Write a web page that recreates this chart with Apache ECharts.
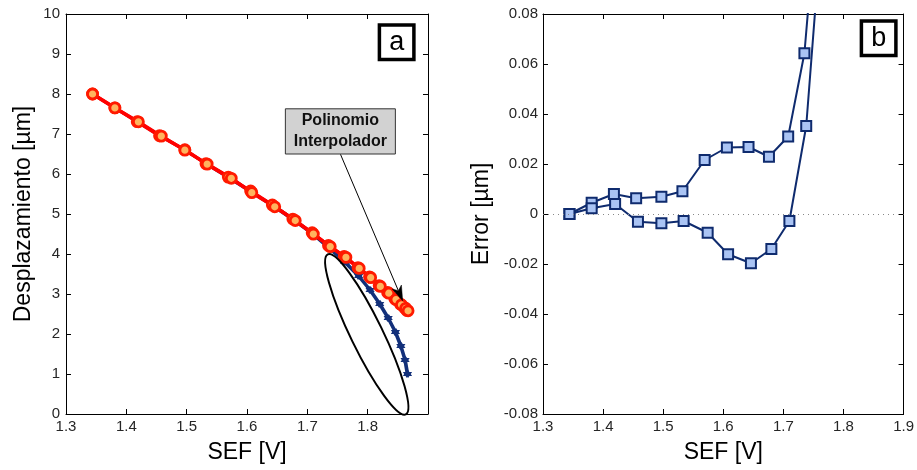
<!DOCTYPE html>
<html>
<head>
<meta charset="utf-8">
<script src="https://cdn.jsdelivr.net/npm/echarts@6/dist/echarts.min.js"></script>
<style>
  html, body { margin: 0; padding: 0; background: #fff; }
  #chart { width: 917px; height: 470px; }
</style>
</head>
<body>
<div id="chart"></div>
<script>
// Desplazamiento medido (µm) en cada escalón, ida y vuelta
const desplazamiento = [8.00, 7.65, 7.30, 6.95, 6.60, 6.25, 5.90, 5.55, 5.20, 4.85, 4.50, 4.15, 3.80, 3.45, 3.10, 2.75, 2.40, 2.05, 1.70, 1.35, 1.00];
// Tensión SEF (V) registrada en cada pasada
const sefSubida = [1.344, 1.381, 1.418, 1.455, 1.497, 1.532, 1.569, 1.606, 1.642, 1.676, 1.708, 1.735, 1.761, 1.784, 1.803, 1.819, 1.833, 1.845, 1.854, 1.861, 1.865];
const sefBajada = [1.344, 1.381, 1.420, 1.458, 1.497, 1.534, 1.574, 1.608, 1.646, 1.680, 1.710, 1.738, 1.764, 1.786, 1.805, 1.821, 1.835, 1.847, 1.856, 1.863, 1.867];
// Salida del polinomio interpolador (µm)
const polinomioSubida = [8.000, 7.655, 7.308, 6.956, 6.607, 6.259, 5.922, 5.577, 5.227, 4.873, 4.531, 4.214, 3.938, 3.66, 3.43, 3.21, 3.04, 2.88, 2.75, 2.66, 2.59];
const polinomioBajada = [8.000, 7.652, 7.304, 6.947, 6.596, 6.247, 5.893, 5.534, 5.180, 4.836, 4.497, 4.185, 3.916, 3.64, 3.41, 3.19, 3.02, 2.86, 2.73, 2.64, 2.58];
// Error del polinomio respecto a la medida (µm)
const errorSubida = [0.0000, 0.0045, 0.0080, 0.0063, 0.0069, 0.0091, 0.0216, 0.0266, 0.0268, 0.0229, 0.0310, 0.0643, 0.138, 0.21, 0.33, 0.46, 0.64, 0.83, 1.05, 1.31, 1.59];
const errorBajada = [0.0000, 0.0023, 0.0040, -0.0031, -0.0037, -0.0028, -0.0075, -0.0161, -0.0197, -0.0140, -0.0028, 0.0352, 0.116, 0.19, 0.31, 0.44, 0.62, 0.81, 1.03, 1.29, 1.58];
// Etiquetas de los ejes X
const etiquetasSefA = ['1.3', '1.4', '1.5', '1.6', '1.7', '1.8'];
const etiquetasSefB = ['1.3', '1.4', '1.5', '1.6', '1.7', '1.8', '1.9'];

const pares = (xs, ys) => xs.map((x, i) => [x, ys[i]]);

const FONT = 'Liberation Sans, Arial, sans-serif';
const gridA = { left: 66, top: 14, width: 362, height: 400 };
const gridB = { left: 543, top: 14, width: 363, height: 400 };

const tickStyle = { show: true, inside: true, length: 5, lineStyle: { color: '#000', width: 1 } };
const lineStyle = { show: true, onZero: false, lineStyle: { color: '#000', width: 1 } };
const labelStyle = { color: '#262626', fontSize: 15, fontFamily: FONT };
const nameStyle = { color: '#000', fontSize: 23, fontFamily: FONT };

function ejeX(grid, pos, etiquetas, conNombre) {
  return {
    type: 'value', gridIndex: grid, position: pos, min: 1.3, max: 1.9, interval: 0.1,
    axisLine: lineStyle, axisTick: tickStyle, splitLine: { show: false },
    axisLabel: pos === 'bottom' ? Object.assign({
      margin: 5,
      formatter: v => { const t = v.toFixed(1); return etiquetas.includes(t) ? t : ''; }
    }, labelStyle) : { show: false },
    name: conNombre ? 'SEF [V]' : '', nameLocation: 'middle', nameGap: 27, nameTextStyle: nameStyle
  };
}

const AZUL = '#13307a';
const AZUL_E = '#0f2b6e';

const option = {
  animation: false,
  backgroundColor: '#fff',
  grid: [gridA, gridB],
  xAxis: [
    ejeX(0, 'bottom', etiquetasSefA, true),
    ejeX(0, 'top', etiquetasSefA, false),
    ejeX(1, 'bottom', etiquetasSefB, true),
    ejeX(1, 'top', etiquetasSefB, false)
  ],
  yAxis: [
    {
      type: 'value', gridIndex: 0, position: 'left', min: 0, max: 10, interval: 1,
      axisLine: lineStyle, axisTick: tickStyle, splitLine: { show: false },
      axisLabel: Object.assign({ margin: 6 }, labelStyle),
      name: 'Desplazamiento [µm]', nameLocation: 'middle', nameGap: 31, nameTextStyle: nameStyle
    },
    {
      type: 'value', gridIndex: 0, position: 'right', min: 0, max: 10, interval: 1,
      axisLine: lineStyle, axisTick: tickStyle, splitLine: { show: false }, axisLabel: { show: false }
    },
    {
      type: 'value', gridIndex: 1, position: 'left', min: -0.08, max: 0.08, interval: 0.02,
      axisLine: lineStyle, axisTick: tickStyle, splitLine: { show: false },
      axisLabel: Object.assign({ margin: 5, formatter: v => Math.abs(v) < 1e-9 ? '0' : v.toFixed(2) }, labelStyle),
      name: 'Error [µm]', nameLocation: 'middle', nameGap: 50, nameTextStyle: nameStyle
    },
    {
      type: 'value', gridIndex: 1, position: 'right', min: -0.08, max: 0.08, interval: 0.02,
      axisLine: lineStyle, axisTick: tickStyle, splitLine: { show: false }, axisLabel: { show: false }
    }
  ],
  series: [
    // Medidas (azul) bajo el polinomio (rojo)
    ...[sefSubida, sefBajada].map(sef => ({
      type: 'line', xAxisIndex: 0, yAxisIndex: 0, data: pares(sef, desplazamiento),
      symbol: 'path://M0,-10 L2.9,-5 L8.7,-5 L5.8,0 L8.7,5 L2.9,5 L0,10 L-2.9,5 L-8.7,5 L-5.8,0 L-8.7,-5 L-2.9,-5 Z',
      symbolSize: 8, showSymbol: true,
      lineStyle: { color: AZUL, width: 2.5 }, itemStyle: { color: AZUL }, z: 2
    })),
    ...[[sefSubida, polinomioSubida], [sefBajada, polinomioBajada]].map(([sef, pol]) => ({
      type: 'line', xAxisIndex: 0, yAxisIndex: 0, data: pares(sef, pol),
      symbol: 'circle', symbolSize: 10, showSymbol: true,
      lineStyle: { color: '#ff0000', width: 3.5 },
      itemStyle: { color: '#ffb45e', borderColor: '#ff1a00', borderWidth: 2.8 }, z: 3
    })),
    ...[[sefSubida, errorSubida], [sefBajada, errorBajada]].map(([sef, err], k) => ({
      type: 'line', xAxisIndex: 2, yAxisIndex: 2, data: pares(sef, err), clip: true,
      symbol: 'rect', symbolSize: 10, showSymbol: true,
      lineStyle: { color: AZUL_E, width: 2 },
      itemStyle: { color: '#aac4f4', borderColor: AZUL_E, borderWidth: 2 }, z: 3,
      markLine: k === 0 ? {
        silent: true, symbol: 'none', label: { show: false }, animation: false,
        lineStyle: { color: '#888', width: 1, type: [1, 4] },
        data: [{ yAxis: 0 }]
      } : undefined
    }))
  ]
};

const chart = echarts.init(document.getElementById('chart'), null, { renderer: 'canvas' });
chart.setOption(option);

// Anotaciones: recuadros de letra, elipse y flecha del polinomio
const px = pt => chart.convertToPixel({ xAxisIndex: 0, yAxisIndex: 0 }, pt);

function recuadroLetra(x, y, letra) {
  return {
    type: 'group', x: x, y: y, z: 50,
    children: [
      { type: 'rect', shape: { x: 0, y: 0, width: 34.5, height: 34.5 },
        style: { fill: '#fff', stroke: '#000', lineWidth: 3.5 } },
      { type: 'text', x: 17.25, y: 17.5,
        style: { text: letra, fill: '#000', font: '27px ' + FONT, align: 'center', verticalAlign: 'middle' } }
    ]
  };
}

const centro = px([1.7985, 1.99]);
const cajaTL = px([1.6636, 7.63]);
const cajaBR = px([1.8459, 6.50]);
const origen = px([1.755, 6.49]);
const punta = px([1.858, 2.83]);
const dx = punta[0] - origen[0], dy = punta[1] - origen[1];
const L = Math.hypot(dx, dy), ux = dx / L, uy = dy / L, nx = -uy, ny = ux;
const base = [punta[0] - 15 * ux, punta[1] - 15 * uy];
const muesca = [punta[0] - 11 * ux, punta[1] - 11 * uy];

chart.setOption({
  graphic: [
    recuadroLetra(gridA.left + gridA.width - 48.6, gridA.top + 11, 'a'),
    recuadroLetra(gridB.left + gridB.width - 44.6, gridB.top + 7, 'b'),
    {
      type: 'ellipse', x: centro[0], y: centro[1], rotation: -64 * Math.PI / 180, z: 40,
      shape: { cx: 0, cy: 0, rx: 89, ry: 16 },
      style: { fill: 'none', stroke: '#000', lineWidth: 2 }
    },
    {
      type: 'line', z: 40,
      shape: { x1: origen[0], y1: origen[1], x2: muesca[0], y2: muesca[1] },
      style: { stroke: '#000', lineWidth: 1 }
    },
    {
      type: 'polygon', z: 41,
      shape: { points: [punta, [base[0] + 5 * nx, base[1] + 5 * ny], muesca, [base[0] - 5 * nx, base[1] - 5 * ny]] },
      style: { fill: '#000', stroke: '#000', lineWidth: 0.5 }
    },
    {
      type: 'group', z: 45, x: cajaTL[0], y: cajaTL[1],
      children: [
        { type: 'rect', shape: { x: 0, y: 0, width: cajaBR[0] - cajaTL[0], height: cajaBR[1] - cajaTL[1] },
          style: { fill: '#d2d2d2', stroke: '#333', lineWidth: 1 } },
        { type: 'text', x: (cajaBR[0] - cajaTL[0]) / 2, y: (cajaBR[1] - cajaTL[1]) / 2,
          style: { text: 'Polinomio\nInterpolador', fill: '#111', font: 'bold 16px ' + FONT,
                   align: 'center', verticalAlign: 'middle', lineHeight: 21 } }
      ]
    }
  ]
});
</script>
</body>
</html>
